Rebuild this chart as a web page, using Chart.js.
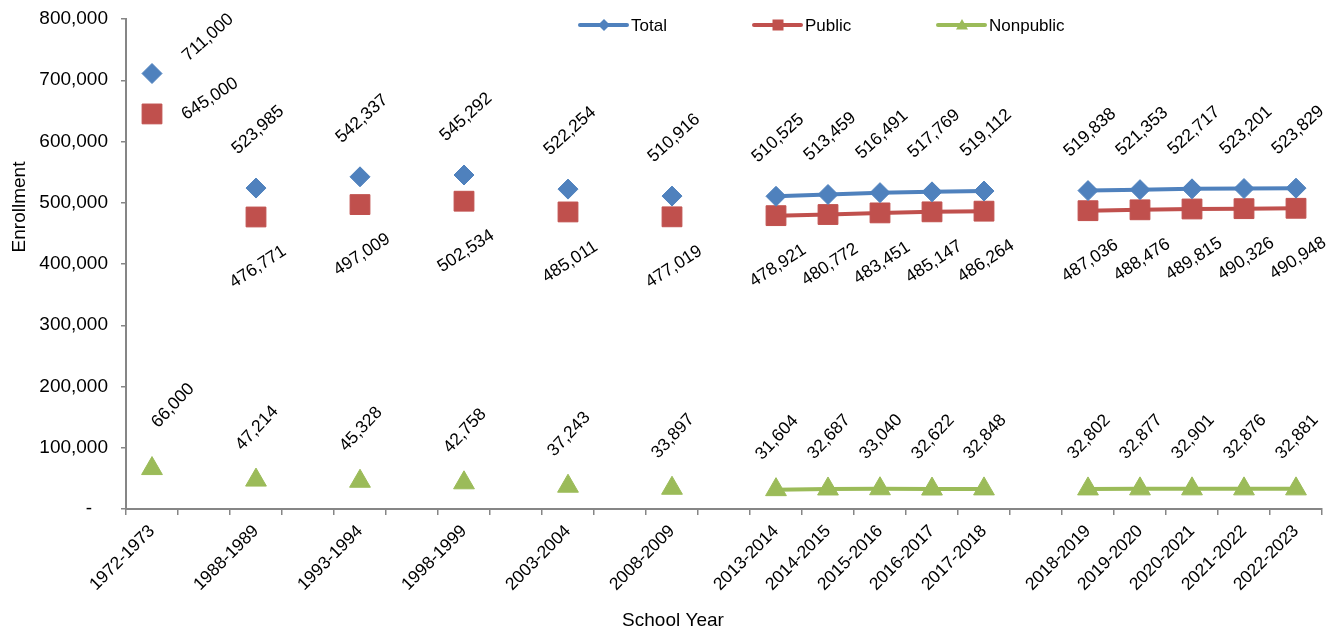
<!DOCTYPE html>
<html>
<head>
<meta charset="utf-8">
<script src="https://cdn.jsdelivr.net/npm/chart.js@4"></script>
<style>
  html, body { margin: 0; padding: 0; background: #fff; }
  #wrap { width: 1338px; height: 635px; }
</style>
</head>
<body>
<div id="wrap"><canvas id="grafico"></canvas></div>
<script>
// School years (blank slots keep Excel's spacing between groups)
const anos = ['1972-1973', '', '1988-1989', '', '1993-1994', '', '1998-1999', '', '2003-2004', '', '2008-2009', '',
    '2013-2014', '2014-2015', '2015-2016', '2016-2017', '2017-2018', '',
    '2018-2019', '2019-2020', '2020-2021', '2021-2022', '2022-2023'];

const total = [711000, null, 523985, null, 542337, null, 545292, null, 522254, null, 510916, null,
    510525, 513459, 516491, 517769, 519112, null,
    519838, 521353, 522717, 523201, 523829];

const publico = [645000, null, 476771, null, 497009, null, 502534, null, 485011, null, 477019, null,
    478921, 480772, 483451, 485147, 486264, null,
    487036, 488476, 489815, 490326, 490948];

const naoPublico = [66000, null, 47214, null, 45328, null, 42758, null, 37243, null, 33897, null,
    31604, 32687, 33040, 32622, 32848, null,
    32802, 32877, 32901, 32876, 32881];

const yTicks = [0, 100000, 200000, 300000, 400000, 500000, 600000, 700000, 800000];

const FONTE = '"Liberation Sans", Arial, sans-serif';
const AZUL = '#4F81BD', VERMELHO = '#C0504D', VERDE = '#9BBB59';
const fmt = v => v.toLocaleString('en-US');

// label placement per dataset (first point was moved by hand in the original)
const posLabels = [
    { dx: 2, dy: -58, ang: -42, primeiro: { dx: 56, dy: -36 } },
    { dx: 2, dy: 50, ang: -33, primeiro: { dx: 58, dy: -15 } },
    { dx: 1, dy: -52, ang: -47, primeiro: { dx: 21, dy: -63 } }
];

const rotulosPlugin = {
    id: 'rotulos',
    afterDatasetsDraw(chart) {
        const ctx = chart.ctx;
        ctx.save();
        ctx.font = '17.5px ' + FONTE;
        ctx.fillStyle = '#000';
        ctx.textAlign = 'center';
        ctx.textBaseline = 'middle';
        chart.data.datasets.forEach((ds, di) => {
            const meta = chart.getDatasetMeta(di);
            const p = posLabels[di];
            ds.data.forEach((v, i) => {
                if (v == null) return;
                const el = meta.data[i];
                const off = i === 0 ? p.primeiro : p;
                ctx.save();
                ctx.translate(el.x + off.dx, el.y + off.dy);
                ctx.rotate(p.ang * Math.PI / 180);
                ctx.fillText(fmt(v), 0, 0);
                ctx.restore();
            });
        });
        ctx.restore();
    }
};

function marcador(ctx, tipo, x, y, r) {
    ctx.beginPath();
    if (tipo === 'rectRot') {
        ctx.moveTo(x, y - r); ctx.lineTo(x + r, y); ctx.lineTo(x, y + r); ctx.lineTo(x - r, y);
    } else if (tipo === 'rect') {
        ctx.rect(x - r, y - r, 2 * r, 2 * r);
    } else {
        ctx.moveTo(x, y - r); ctx.lineTo(x + r, y + r * 0.75); ctx.lineTo(x - r, y + r * 0.75);
    }
    ctx.closePath();
    ctx.fill();
}

const legendaPlugin = {
    id: 'legendaTitulos',
    afterDraw(chart) {
        const ctx = chart.ctx;
        ctx.save();
        const itens = [
            { t: 'Total', c: AZUL, m: 'rectRot', x: 580, r: 6 },
            { t: 'Public', c: VERMELHO, m: 'rect', x: 754, r: 5.5 },
            { t: 'Nonpublic', c: VERDE, m: 'triangle', x: 938, r: 6 }
        ];
        ctx.font = '17px ' + FONTE;
        ctx.textBaseline = 'middle';
        itens.forEach(it => {
            ctx.strokeStyle = it.c;
            ctx.fillStyle = it.c;
            ctx.lineWidth = 4;
            ctx.lineCap = 'round';
            ctx.beginPath();
            ctx.moveTo(it.x, 25);
            ctx.lineTo(it.x + 47, 25);
            ctx.stroke();
            marcador(ctx, it.m, it.x + 24, 25, it.r);
            ctx.fillStyle = '#000';
            ctx.textAlign = 'left';
            ctx.fillText(it.t, it.x + 51, 26);
        });
        // axis titles
        ctx.font = '19px ' + FONTE;
        ctx.textAlign = 'center';
        ctx.fillText('School Year', 673, 621);
        ctx.translate(20, 207);
        ctx.rotate(-Math.PI / 2);
        ctx.fillText('Enrollment', 0, 0);
        ctx.restore();
    }
};

const ctx = document.getElementById('grafico').getContext('2d');
const grafico = new Chart(ctx, {
    type: 'line',
    data: {
        labels: anos,
        datasets: [{
            label: 'Total',
            data: total,
            borderColor: AZUL,
            backgroundColor: AZUL,
            borderWidth: 4,
            pointStyle: 'rectRot',
            pointRadius: 10,
            pointBorderWidth: 1
        }, {
            label: 'Public',
            data: publico,
            borderColor: VERMELHO,
            backgroundColor: VERMELHO,
            borderWidth: 4,
            pointStyle: 'rect',
            pointRadius: 14,
            pointBorderWidth: 1
        }, {
            label: 'Nonpublic',
            data: naoPublico,
            borderColor: VERDE,
            backgroundColor: VERDE,
            borderWidth: 4,
            pointStyle: 'triangle',
            pointRadius: 12,
            pointBorderWidth: 1
        }]
    },
    options: {
        responsive: true,
        maintainAspectRatio: false,
        animation: false,
        spanGaps: false,
        layout: { padding: { left: 0, right: 16, top: 19, bottom: 0 } },
        plugins: {
            legend: { display: false },
            tooltip: { enabled: false }
        },
        scales: {
            x: {
                offset: true,
                grid: { display: true, drawOnChartArea: false, offset: true, tickLength: 6, color: '#868686', lineWidth: 1.5 },
                border: { color: '#868686', width: 2 },
                ticks: {
                    autoSkip: false,
                    maxRotation: 45,
                    minRotation: 45,
                    padding: 6,
                    color: '#000',
                    font: { family: FONTE, size: 17.5 }
                },
                afterFit(scale) {
                    scale.height = 126;
                    scale.paddingLeft = 0;
                    scale.paddingRight = 0;
                }
            },
            y: {
                min: 0,
                max: 800000,
                afterBuildTicks(scale) { scale.ticks = yTicks.map(v => ({ value: v })); },
                grid: { display: true, drawOnChartArea: false, tickLength: 5, color: '#868686', lineWidth: 1.5 },
                border: { color: '#868686', width: 2 },
                ticks: {
                    padding: 13,
                    color: '#000',
                    font: { family: FONTE, size: 19 },
                    callback: v => v === 0 ? '-   ' : fmt(v)
                },
                afterFit(scale) {
                    scale.width = 126;
                    scale.paddingTop = 0;
                    scale.paddingBottom = 0;
                }
            }
        }
    },
    plugins: [rotulosPlugin, legendaPlugin]
});
</script>
</body>
</html>
